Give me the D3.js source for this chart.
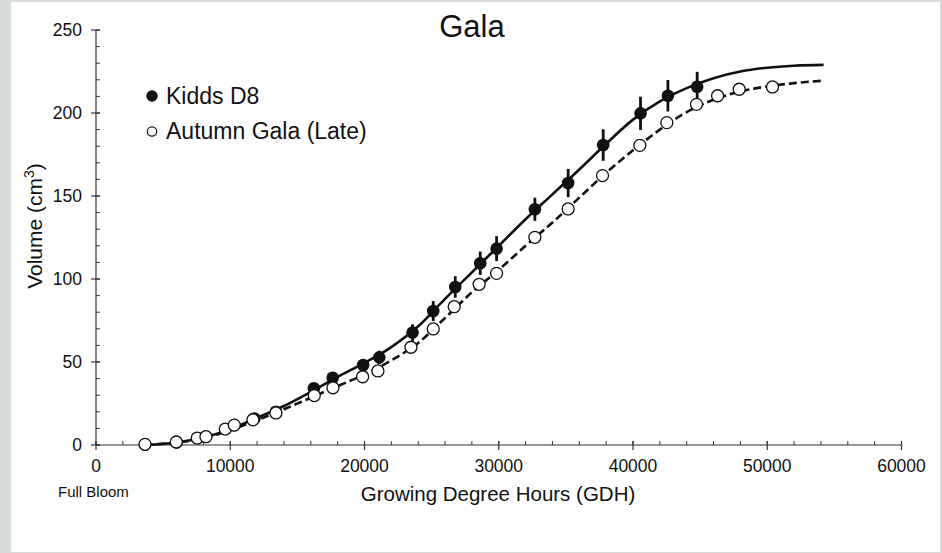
<!DOCTYPE html>
<html>
<head>
<meta charset="utf-8">
<script src="https://cdn.jsdelivr.net/npm/d3@7"></script>
<style>
  html, body { margin: 0; padding: 0; background: #d9dcdc; }
  svg { display: block; }
</style>
</head>
<body>
<svg id="chart" width="942" height="553"></svg>
<script>
// ========= Data ========= //
const kiddsX = [3650, 6000, 8150, 10300, 11800, 13400, 16230, 17630, 19900, 21100, 23580, 25120, 26760, 28620, 29840, 32690, 35170, 37780, 40560, 42600, 44780];
const kiddsY = [0.3, 1.6, 5, 12, 16, 20, 34.2, 40.5, 48.2, 52.8, 67.7, 80.7, 95.2, 109.5, 118.3, 142, 157.8, 180.7, 199.8, 210.4, 215.8];
const kiddsErr = [0.5, 0.5, 1, 1, 1.5, 1.5, 2, 2.5, 3, 4, 5, 6, 6.5, 7, 7.5, 7, 8.5, 9.5, 10, 9.5, 9];

const autumnX = [3650, 5980, 7540, 8190, 9630, 10300, 11690, 13400, 16260, 17650, 19860, 21000, 23460, 25120, 26680, 28540, 29840, 32690, 35170, 37730, 40510, 42520, 44730, 46300, 47910, 50390];
const autumnY = [0.4, 1.8, 4.2, 5, 9.6, 12, 15.2, 19.3, 29.8, 34.5, 41.1, 44.6, 58.9, 69.9, 83.3, 96.8, 103.4, 125.1, 142.2, 162.3, 180.5, 194.2, 205.2, 210.4, 214.3, 215.7];

// fitted curves
const fitX = [3650, 6000, 8000, 10000, 12000, 14000, 16000, 18000, 20000, 22000, 24000, 26000, 28000, 30000, 32000, 34000, 36000, 38000, 40000, 42000, 44000, 46000, 48000, 50000, 52000, 54200];
const kiddsFit = [0, 1.5, 4.5, 9.5, 16.5, 23.5, 32, 41, 49.5, 59, 71.5, 88, 104, 120, 136, 151, 166, 181.5, 196, 207, 215, 221, 225, 227.3, 228.5, 229];
const autumnFit = [0, 1.5, 4, 9, 15, 21.5, 28.5, 35.5, 42.5, 51, 61.5, 76.5, 92, 105.5, 120, 134, 149, 164, 177.5, 190, 200.5, 208, 213, 216, 218, 219.5];

const seriesNames = ['Kidds D8', 'Autumn Gala (Late)'];
const xTicks = [0, 10000, 20000, 30000, 40000, 50000, 60000];
const yTicks = [0, 50, 100, 150, 200, 250];

// ========= Setup ========= //
const font = "'Liberation Sans', Arial, sans-serif";
const svg = d3.select('#chart');

svg.append('rect')
  .attr('x', 11).attr('y', 2)
  .attr('width', 929).attr('height', 550)
  .attr('fill', '#fff');

const x = d3.scaleLinear().domain([0, 60000]).range([96, 901.5]);
const y = d3.scaleLinear().domain([0, 250]).range([445, 30]);

// ========= Axes ========= //
const axisColor = '#333';

const yAxis = svg.append('g').attr('transform', 'translate(96,0)');
yAxis.append('line')
  .attr('y1', y(0)).attr('y2', y(250))
  .attr('stroke', axisColor).attr('stroke-width', 1.2);
yAxis.selectAll('.minor')
  .data(d3.range(0, 251, 10))
  .join('line')
    .attr('x1', 0).attr('x2', 4)
    .attr('y1', d => y(d)).attr('y2', d => y(d))
    .attr('stroke', axisColor);
yAxis.selectAll('.major')
  .data(yTicks)
  .join('line')
    .attr('x1', -5).attr('x2', 4)
    .attr('y1', d => y(d)).attr('y2', d => y(d))
    .attr('stroke', axisColor).attr('stroke-width', 1.2);
yAxis.selectAll('text')
  .data(yTicks)
  .join('text')
    .attr('x', -14)
    .attr('y', d => y(d))
    .attr('dy', '0.35em')
    .attr('text-anchor', 'end')
    .attr('font-family', font)
    .attr('font-size', '17.5px')
    .attr('fill', '#111')
    .text(d => d);

const xAxis = svg.append('g').attr('transform', `translate(0,${y(0)})`);
xAxis.append('line')
  .attr('x1', x(0)).attr('x2', x(60000))
  .attr('stroke', axisColor).attr('stroke-width', 1.2);
xAxis.selectAll('.minor')
  .data(d3.range(0, 60001, 2000))
  .join('line')
    .attr('x1', d => x(d)).attr('x2', d => x(d))
    .attr('y1', -4).attr('y2', 0)
    .attr('stroke', axisColor);
xAxis.selectAll('.major')
  .data(xTicks)
  .join('line')
    .attr('x1', d => x(d)).attr('x2', d => x(d))
    .attr('y1', -4).attr('y2', 5)
    .attr('stroke', axisColor).attr('stroke-width', 1.2);
xAxis.selectAll('text')
  .data(xTicks)
  .join('text')
    .attr('x', d => x(d))
    .attr('y', 27)
    .attr('text-anchor', 'middle')
    .attr('font-family', font)
    .attr('font-size', '17.5px')
    .attr('fill', '#111')
    .text(d => d);

// ========= Titles ========= //
svg.append('text')
  .attr('x', 472).attr('y', 37)
  .attr('text-anchor', 'middle')
  .attr('font-family', font)
  .attr('font-size', '31px')
  .attr('fill', '#111')
  .text('Gala');

svg.append('text')
  .attr('x', 498).attr('y', 501)
  .attr('text-anchor', 'middle')
  .attr('font-family', font)
  .attr('font-size', '20.5px')
  .attr('fill', '#111')
  .text('Growing Degree Hours (GDH)');

svg.append('text')
  .attr('x', 58).attr('y', 497)
  .attr('font-family', font)
  .attr('font-size', '15px')
  .attr('fill', '#111')
  .text('Full Bloom');

const yTitle = svg.append('text')
  .attr('transform', 'translate(42,226) rotate(-90)')
  .attr('text-anchor', 'middle')
  .attr('font-family', font)
  .attr('font-size', '21px')
  .attr('fill', '#111');
yTitle.append('tspan').text('Volume (cm');
yTitle.append('tspan').attr('font-size', '14px').attr('dy', '-8').text('3');
yTitle.append('tspan').attr('dy', '8').text(')');

// ========= Fitted curves ========= //
const line = d3.line()
  .x(d => x(d[0]))
  .y(d => y(d[1]))
  .curve(d3.curveMonotoneX);

svg.append('path')
  .attr('d', line(d3.zip(fitX, kiddsFit)))
  .attr('fill', 'none')
  .attr('stroke', '#111')
  .attr('stroke-width', 2.6);

svg.append('path')
  .attr('d', line(d3.zip(fitX, autumnFit)))
  .attr('fill', 'none')
  .attr('stroke', '#111')
  .attr('stroke-width', 2.6)
  .attr('stroke-dasharray', '8,4');

// ========= Kidds D8 (filled, with error bars) ========= //
const kidds = d3.zip(kiddsX, kiddsY, kiddsErr);

svg.append('g')
  .selectAll('line')
  .data(kidds)
  .join('line')
    .attr('x1', d => x(d[0])).attr('x2', d => x(d[0]))
    .attr('y1', d => y(d[1] - d[2])).attr('y2', d => y(d[1] + d[2]))
    .attr('stroke', '#111')
    .attr('stroke-width', 2.8);

svg.append('g')
  .selectAll('circle')
  .data(kidds)
  .join('circle')
    .attr('cx', d => x(d[0]))
    .attr('cy', d => y(d[1]))
    .attr('r', 6.3)
    .attr('fill', '#111');

// ========= Autumn Gala (open) ========= //
svg.append('g')
  .selectAll('circle')
  .data(d3.zip(autumnX, autumnY))
  .join('circle')
    .attr('cx', d => x(d[0]))
    .attr('cy', d => y(d[1]))
    .attr('r', 6)
    .attr('fill', '#fff')
    .attr('stroke', '#111')
    .attr('stroke-width', 1.3);

// ========= Legend ========= //
const legend = svg.append('g').attr('class', 'legend');
legend.append('circle')
  .attr('cx', 152).attr('cy', 96).attr('r', 5.7)
  .attr('fill', '#111');
legend.append('circle')
  .attr('cx', 152).attr('cy', 131.5).attr('r', 4.7)
  .attr('fill', '#fff').attr('stroke', '#111').attr('stroke-width', 1.2);
legend.selectAll('text')
  .data(seriesNames)
  .join('text')
    .attr('x', 166)
    .attr('y', (d, i) => 103.5 + i * 35)
    .attr('font-family', font)
    .attr('font-size', '23px')
    .attr('fill', '#111')
    .text(d => d);
</script>
</body>
</html>
